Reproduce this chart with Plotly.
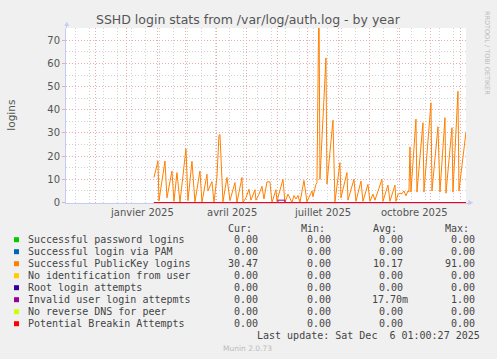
import plotly.graph_objects as go
import pandas as pd

# ---------------- data ----------------
title = "SSHD login stats from /var/log/auth.log - by year"
y_title = "logins"
x_start = "2024-11-01 01:00:27"
x_end = "2025-12-06 01:00:27"

tick_label_dates = ["2025-01-16", "2025-04-16", "2025-07-16", "2025-10-16"]
tick_labels = ["janvier 2025", "avril 2025", "juillet 2025", "octobre 2025"]
y_ticks = [0, 10, 20, 30, 40, 50, 60, 70]

pubkey_dates = [
    "2025-01-28", "2025-02-01", "2025-02-02", "2025-02-08", "2025-02-10", "2025-02-15",
    "2025-02-17", "2025-02-20", "2025-02-23", "2025-03-01", "2025-03-03", "2025-03-07",
    "2025-03-10", "2025-03-15", "2025-03-17", "2025-03-22", "2025-03-23", "2025-03-27",
    "2025-03-29", "2025-04-01", "2025-04-03", "2025-04-04", "2025-04-07", "2025-04-11",
    "2025-04-14", "2025-04-19", "2025-04-21", "2025-04-26", "2025-04-27", "2025-04-30",
    "2025-05-03", "2025-05-05", "2025-05-09", "2025-05-10", "2025-05-13", "2025-05-16",
    "2025-05-18", "2025-05-21", "2025-05-24", "2025-05-26", "2025-05-30", "2025-05-31",
    "2025-06-06", "2025-06-08", "2025-06-11", "2025-06-15", "2025-06-17", "2025-06-19",
    "2025-06-21", "2025-06-23", "2025-06-27", "2025-06-30", "2025-07-05", "2025-07-06",
    "2025-07-09", "2025-07-10", "2025-07-12", "2025-07-13", "2025-07-19", "2025-07-20",
    "2025-07-26", "2025-07-28", "2025-08-02", "2025-08-03", "2025-08-09", "2025-08-10",
    "2025-08-16", "2025-08-18", "2025-08-23", "2025-08-25", "2025-08-30", "2025-09-01",
    "2025-09-04", "2025-09-06", "2025-09-13", "2025-09-14", "2025-09-19", "2025-09-21",
    "2025-09-26", "2025-09-27", "2025-09-29", "2025-10-01", "2025-10-03", "2025-10-05",
    "2025-10-07", "2025-10-09", "2025-10-10", "2025-10-11", "2025-10-12", "2025-10-17",
    "2025-10-18", "2025-10-24", "2025-10-25", "2025-11-01", "2025-11-02", "2025-11-08",
    "2025-11-10", "2025-11-15", "2025-11-16", "2025-11-22", "2025-11-23", "2025-11-28",
    "2025-11-29", "2025-12-06 01:00:27",
]
pubkey_values = [
    10.8, 17.9, 0.7, 17.9, 2.0, 13.6,
    0.5, 12.9, 0.0, 23.2, 0.8, 17.8,
    0.3, 13.6, 0.0, 12.2, 5.0, 9.0,
    0.0, 11.0, 29.0, 29.3, 0.3, 10.8,
    0.8, 8.6, 0.0, 10.8, 0.0, 2.0,
    5.7, 1.0, 5.5, 1.0, 3.5, 7.0,
    1.5, 8.9, 8.9, 0.0, 5.5, 0.5,
    10.0, 0.0, 3.6, 0.0, 3.0, 1.5,
    3.0, 0.0, 9.5, 0.3, 5.0, 2.5,
    7.9, 8.5, 91.0, 10.0, 62.4, 8.0,
    35.5, 0.3, 17.2, 2.0, 12.9, 1.0,
    10.0, 0.5, 9.2, 0.5, 7.8, 0.5,
    3.6, 1.0, 10.0, 0.5, 7.5, 0.5,
    7.5, 0.5, 3.5, 4.0, 3.8, 5.0,
    2.9, 5.0, 4.5, 24.0, 4.5, 36.0,
    4.5, 34.4, 4.5, 43.0, 5.0, 32.7,
    4.5, 36.6, 4.0, 32.3, 4.5, 48.0,
    5.0, 30.47,
]
assert len(pubkey_dates) == len(pubkey_values)

invalid_dates = ["2025-01-28", "2025-06-01", "2025-06-08", "2025-12-06 01:00:27"]
invalid_values = [0, 1, 0, 0]

zero_dates = ["2025-01-28", "2025-12-06 01:00:27"]
zero_values = [0, 0]

series_names = [
    "Successful password logins", "Successful login via PAM", "Successful PublicKey logins",
    "No identification from user", "Root login attempts", "Invalid user login attepmts",
    "No reverse DNS for peer", "Potential Breakin Attempts",
]
series_colors = ["#00CC00", "#0066B3", "#FF8000", "#FFCC00", "#330099", "#990099", "#CCFF00", "#FF0000"]
cur_vals = ["0.00", "0.00", "30.47", "0.00", "0.00", "0.00", "0.00", "0.00"]
min_vals = ["0.00"] * 8
avg_vals = ["0.00", "0.00", "10.17", "0.00", "0.00", "17.70m", "0.00", "0.00"]
max_vals = ["0.00", "0.00", "91.00", "0.00", "0.00", "1.00", "0.00", "0.00"]
col_headers = ["Cur:", "Min:", "Avg:", "Max:"]
last_update = "Last update: Sat Dec\u00a0\u00a06 01:00:27 2025"
version = "Munin 2.0.73"
credit = "RRDTOOL / TOBI OETIKER"

# ---------------- layout helpers ----------------
W, H = 497, 359
L, R, T, B = 66, 31, 28, 156
PW, PH = W - L - R, H - T - B
BOT = H - B


def px(x):
    return (x - L) / PW


def py(y):
    return (BOT - y) / PH


MONO = "DejaVu Sans Mono"
SANS = "DejaVu Sans"
TXT = "#444444"
AX = "#c5cbf5"
MAJ = "#eeaaaa"
MIN = "#d2d2d2"
DOTS = "1px,2px"

fig = go.Figure()

for i, (name, color) in enumerate(zip(series_names, series_colors)):
    if i == 2:
        xs, ys, shape = pubkey_dates, pubkey_values, "linear"
    elif i == 5:
        xs, ys, shape = invalid_dates, invalid_values, "hv"
    else:
        xs, ys, shape = zero_dates, zero_values, "linear"
    fig.add_trace(go.Scatter(x=xs, y=ys, mode="lines", name=name,
                             line=dict(color=color, width=1, shape=shape),
                             hoverinfo="skip"))

month_starts = pd.date_range("2024-12-01", "2025-12-01", freq="MS")

fig.update_layout(
    width=W, height=H,
    margin=dict(l=L, r=R, t=T, b=B, pad=0),
    paper_bgcolor="#f0f0f0", plot_bgcolor="#ffffff",
    showlegend=False,
    font=dict(family=SANS, size=10, color="#555555"),
    xaxis=dict(
        type="date", range=[x_start, x_end], fixedrange=True,
        tickmode="array", tickvals=list(month_starts), ticktext=[""] * len(month_starts),
        showgrid=True, gridcolor=MAJ, griddash=DOTS, gridwidth=1,
        ticks="", showline=True, linecolor=AX, linewidth=1, zeroline=False,
        layer="below traces",
        minor=dict(tick0="2024-11-11", dtick=14 * 86400000, showgrid=True,
                   gridcolor=MIN, griddash=DOTS, gridwidth=1, ticks=""),
    ),
    yaxis=dict(
        range=[-0.216, 75.3], fixedrange=True,
        tickmode="array", tickvals=y_ticks, ticktext=[str(v) for v in y_ticks],
        showgrid=True, gridcolor=MAJ, griddash=DOTS, gridwidth=1,
        ticks="outside", ticklen=3, tickcolor=MAJ,
        tickfont=dict(family=SANS, size=10, color="#555555"),
        showline=True, linecolor=AX, linewidth=1, zeroline=False,
        layer="below traces",
        minor=dict(dtick=5, tick0=0, showgrid=True, gridcolor=MIN,
                   griddash=DOTS, gridwidth=1, ticks=""),
    ),
)

ann = []
ann.append(dict(text=title, x=px(248.8), y=py(19.3), xref="paper", yref="paper",
                xanchor="center", yanchor="middle", showarrow=False,
                font=dict(family=SANS, size=12.5, color="#555555")))
ann.append(dict(text=y_title, x=px(10.7), y=py(115), xref="paper", yref="paper",
                xanchor="center", yanchor="middle", showarrow=False, textangle=-90,
                font=dict(family=SANS, size=10.5, color="#555555")))
ann.append(dict(text=credit, x=px(487), y=py(53), xref="paper", yref="paper",
                xanchor="center", yanchor="middle", showarrow=False, textangle=90,
                font=dict(family=SANS, size=6.5, color="#bbbbbb")))
for d, t in zip(tick_label_dates, tick_labels):
    ann.append(dict(text=t, x=d, y=py(212), xref="x", yref="paper",
                    xanchor="center", yanchor="middle", showarrow=False,
                    font=dict(family=SANS, size=10, color="#555555")))

col_right = [259.5, 333.0, 404.5, 477.0]
CW = 5.96
for h, cr in zip(col_headers, col_right):
    ann.append(dict(text=h, x=px(cr - CW), y=py(228.3), xref="paper", yref="paper",
                    xanchor="right", yanchor="middle", showarrow=False,
                    font=dict(family=MONO, size=10, color=TXT)))

shapes = []
for i, name in enumerate(series_names):
    yc = 239.7 + 12 * i
    shapes.append(dict(type="rect", xref="paper", yref="paper",
                       x0=px(14), x1=px(19), y0=py(yc + 2.5), y1=py(yc - 2.5),
                       fillcolor=series_colors[i], line=dict(width=0)))
    ann.append(dict(text=name, x=px(26.2), y=py(yc), xref="paper", yref="paper",
                    xanchor="left", yanchor="middle", showarrow=False,
                    font=dict(family=MONO, size=10, color=TXT)))
    for vals, cr in zip([cur_vals, min_vals, avg_vals, max_vals], col_right):
        v = vals[i]
        right = cr + (CW if v[-1].isalpha() else 0)
        ann.append(dict(text=v, x=px(right), y=py(yc), xref="paper", yref="paper",
                        xanchor="right", yanchor="middle", showarrow=False,
                        font=dict(family=MONO, size=10, color=TXT)))

ann.append(dict(text=last_update, x=px(482.3), y=py(335.7), xref="paper", yref="paper",
                xanchor="right", yanchor="middle", showarrow=False,
                font=dict(family=MONO, size=10, color=TXT)))
ann.append(dict(text=version, x=px(247.7), y=py(348.3), xref="paper", yref="paper",
                xanchor="center", yanchor="middle", showarrow=False,
                font=dict(family=SANS, size=7.5, color="#bbbbbb")))

shapes.append(dict(type="path", xref="paper", yref="paper",
                   path=f"M {px(64.3)},{py(26)} L {px(66.8)},{py(21.7)} L {px(69.3)},{py(26)} Z",
                   fillcolor=AX, line=dict(width=0)))
shapes.append(dict(type="line", xref="paper", yref="paper",
                   x0=px(66.5), x1=px(66.5), y0=py(28), y1=py(25),
                   line=dict(color=AX, width=1)))
shapes.append(dict(type="path", xref="paper", yref="paper",
                   path=f"M {px(468.3)},{py(200)} L {px(473.3)},{py(202.7)} L {px(468.3)},{py(205.3)} Z",
                   fillcolor=AX, line=dict(width=0)))
shapes.append(dict(type="line", xref="paper", yref="paper",
                   x0=px(466), x1=px(469), y0=py(203.5), y1=py(203.5),
                   line=dict(color=AX, width=1)))

fig.update_layout(annotations=ann, shapes=shapes)
fig.write_html("out.html")
